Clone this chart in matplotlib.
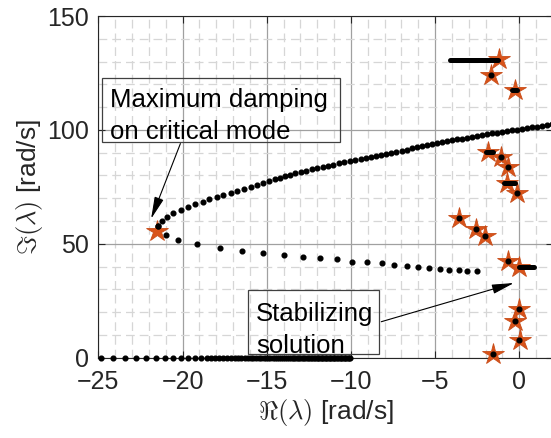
import matplotlib
matplotlib.use("Agg")
import matplotlib.pyplot as plt
from matplotlib.patches import Rectangle
from matplotlib.ticker import MultipleLocator

plt.rcParams['font.family'] = ['Liberation Sans', 'DejaVu Sans']
plt.rcParams['mathtext.fontset'] = 'cm'

# ---- data ----
upper_x = [-21.48, -21.24, -20.94, -20.55, -20.11, -19.67, -19.24, -18.80, -18.41, -17.97,
           -17.58, -17.14, -16.75, -16.33, -15.93, -15.59, -15.20, -14.85, -14.51, -14.20,
           -13.92, -13.64, -13.32, -12.98, -12.67, -12.33, -12.01, -11.67, -11.34, -11.05,
           -10.71, -10.41, -10.05, -9.76, -9.42, -9.10, -8.81, -8.51, -8.21, -7.92,
           -7.62, -7.32, -6.98, -6.69, -6.39, -6.09, -5.80, -5.50, -5.20, -4.90,
           -4.61, -4.31, -4.01, -3.72, -3.42, -3.12, -2.83, -2.53, -2.23, -1.94,
           -1.64, -1.34, -1.05, -0.75, -0.45, -0.15, 0.14, 0.44, 0.74, 1.03,
           1.33, 1.63, 1.93]
upper_y = [58.0, 60.0, 61.9, 63.4, 64.8, 66.3, 67.5, 68.5, 69.7, 70.7,
           71.6, 72.4, 73.3, 74.2, 74.9, 75.8, 76.7, 77.4, 78.3, 78.9,
           79.6, 80.2, 80.9, 81.5, 82.1, 82.7, 83.3, 83.7, 84.3, 84.7,
           85.3, 85.8, 86.2, 86.7, 87.1, 87.5, 88.0, 88.4, 88.8, 89.3,
           89.7, 90.2, 90.7, 91.2, 91.9, 92.5, 92.9, 93.4, 93.8, 94.3,
           94.7, 95.0, 95.4, 95.9, 96.2, 96.6, 97.0, 97.4, 97.8, 98.2,
           98.5, 98.8, 99.1, 99.5, 99.8, 100.1, 100.5, 100.8, 101.1, 101.4,
           101.8, 102.1, 102.4]

lower_x = [-21.48, -21.0, -20.25, -19.12, -17.8, -16.47, -15.2, -13.98, -12.86, -11.85,
           -10.85, -9.92, -9.04, -8.17, -7.42, -6.69, -6.0, -5.34, -4.71, -4.16,
           -3.58, -3.09, -2.53]
lower_y = [58.0, 53.9, 51.7, 49.9, 48.2, 46.8, 45.8, 45.0, 44.2, 43.6,
           43.2, 42.2, 41.8, 41.4, 40.7, 40.3, 39.8, 39.4, 38.9, 38.6,
           38.4, 38.2, 38.1]

real_x = [-24.86, -24.11, -23.42, -22.76, -22.17, -21.59, -21.06, -20.55, -20.09, -19.66,
          -19.26, -18.90, -18.57, -18.31, -18.05, -17.81, -17.58, -17.34, -17.12, -16.90,
          -16.70, -16.51, -16.31, -16.13, -15.95, -15.80, -15.64, -15.48, -15.33, -15.19,
          -15.05, -14.91, -14.78, -14.65, -14.52, -14.39, -14.27, -14.15, -14.03, -13.91,
          -13.80, -13.69, -13.58, -13.47, -13.36, -13.26, -13.16, -13.06, -12.96, -12.86,
          -12.76, -12.67, -12.58, -12.49, -12.40, -12.31, -12.22, -12.13, -12.04, -11.96,
          -11.88, -11.80, -11.72, -11.64, -11.56, -11.48, -11.40, -11.32, -11.24, -11.16,
          -11.08, -11.00, -10.92, -10.84, -10.76, -10.68, -10.60, -10.52, -10.44, -10.36,
          -10.28, -10.20, -10.12, -10.08]
real_y = [0.0] * len(real_x)

# dense clusters drawn as short thick segments
clusters = [
    ([-4.12, -1.25], [130.7, 130.7]),
    ([-0.45, -0.12], [117.5, 117.5]),
    ([-1.95, -1.58], [90.4, 90.4]),
    ([-0.90, -0.28], [76.8, 76.8]),
    ([0.0, 0.87], [40.0, 40.0]),
]

# single black dots at the starred points
dot_x = [-1.67, -1.11, -0.69, -0.15, -3.58, -2.57, -2.04, -0.69, -0.26, 0.0, 0.0, -1.54]
dot_y = [124.1, 88.2, 83.9, 72.2, 61.5, 56.4, 53.4, 42.6, 16.1, 21.2, 7.8, 1.5]

star_x = [-1.21, -1.67, -0.27, -1.84, -1.11, -0.69, -0.75, -0.15, -3.58, -2.57,
          -2.04, -0.69, 0.0, 0.0, -0.26, 0.02, -1.54, -21.50]
star_y = [131.0, 124.1, 117.5, 90.4, 88.2, 83.9, 76.8, 72.2, 61.5, 56.4,
          53.4, 42.6, 40.0, 21.2, 16.1, 7.8, 1.5, 55.8]

xticks = [-25, -20, -15, -10, -5, 0]
yticks = [0, 50, 100, 150]

# ---- figure ----
fig = plt.figure(figsize=(5.51, 4.38), dpi=100)
ax = fig.add_axes([0.1786, 0.1833, 0.8250, 0.7801])

txt = '#262626'
ax.set_xlim(-25, 2)
ax.set_ylim(0, 150)
ax.set_xticks(xticks)
ax.set_yticks(yticks)
ax.xaxis.set_minor_locator(MultipleLocator(1))
ax.yaxis.set_minor_locator(MultipleLocator(10))
ax.grid(which='major', color='#a0a0a0', lw=0.9, ls='-')
ax.grid(which='minor', color='#d6d6d6', lw=0.9, ls=(0, (7, 4)))
ax.set_axisbelow(True)
ax.tick_params(which='major', direction='in', length=5, width=0.8, colors=txt,
               labelsize=18, top=True, right=True, pad=7)
ax.tick_params(which='minor', length=0)
ax.tick_params(axis='x', pad=9)
for s in ax.spines.values():
    s.set_color(txt)
    s.set_linewidth(0.8)
ax.spines['right'].set_visible(False)

ax.set_xlabel(r'$\Re(\lambda)$ [rad/s]', fontsize=19, color=txt, labelpad=2)
ax.set_ylabel(r'$\Im(\lambda)$ [rad/s]', fontsize=19, color=txt, labelpad=1)

star_c = '#D95319'
ax.plot(star_x, star_y, ls='none', marker='*', ms=16, mfc=star_c, mec='#C84C18',
        mew=0.6, zorder=3, clip_on=False)

dot_kw = dict(ls='none', marker='o', ms=3.4, color='black', zorder=4, clip_on=False)
ax.plot(upper_x, upper_y, **dot_kw)
ax.plot(lower_x, lower_y, **dot_kw)
ax.plot(real_x, real_y, **dot_kw)
ax.plot(dot_x, dot_y, **dot_kw)
for cx, cy in clusters:
    ax.plot(cx, cy, color='black', lw=3.6, solid_capstyle='round', zorder=4)

# annotation boxes
arrow_style = dict(arrowstyle='-|>,head_length=0.75,head_width=0.16', color='black',
                   lw=0.8, shrinkA=0, shrinkB=0, mutation_scale=18)
ax.add_patch(Rectangle((-24.79, 94.6), 14.13, 28.0, fill=False, ec='#404040', lw=0.9, zorder=5))
ax.text(-24.33, 110.0, 'Maximum damping', fontsize=18.5, color='black', va='baseline', zorder=6)
ax.text(-24.33, 95.8, 'on critical mode', fontsize=18.5, color='black', va='baseline', zorder=6)
ax.annotate('', xy=(-21.87, 61.0), xytext=(-20.13, 94.0), arrowprops=arrow_style, zorder=6)

ax.add_patch(Rectangle((-16.09, 1.6), 7.76, 28.1, fill=False, ec='#404040', lw=0.9, zorder=5))
ax.text(-15.65, 16.2, 'Stabilizing', fontsize=18.5, color='black', va='baseline', zorder=6)
ax.text(-15.65, 2.2, 'solution', fontsize=18.5, color='black', va='baseline', zorder=6)
ax.annotate('', xy=(-0.32, 32.8), xytext=(-8.2, 15.8), arrowprops=arrow_style, zorder=6)

fig.savefig('out.png', dpi=100)
